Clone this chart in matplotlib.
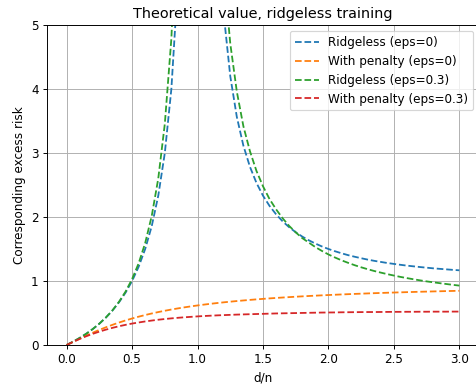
import numpy as np
import matplotlib.pyplot as plt

# Valeurs de d/n
d_sur_n = [0.0, 0.05, 0.1, 0.15, 0.2, 0.25, 0.3, 0.35, 0.4, 0.45,
           0.5, 0.55, 0.6, 0.65, 0.7, 0.75, 0.8, 0.85, 0.9, 0.95,
           1.0, 1.05, 1.1, 1.15, 1.2, 1.25, 1.3, 1.35, 1.4, 1.45,
           1.5, 1.55, 1.6, 1.65, 1.7, 1.75, 1.8, 1.85, 1.9, 1.95,
           2.0, 2.05, 2.1, 2.15, 2.2, 2.25, 2.3, 2.35, 2.4, 2.45,
           2.5, 2.55, 2.6, 2.65, 2.7, 2.75, 2.8, 2.85, 2.9, 2.95, 3.0]

# Ridgeless (eps=0)
ridgeless_eps0 = [0, 0.0526, 0.111, 0.176, 0.25, 0.333, 0.429, 0.538, 0.667, 0.818,
                  1.0, 1.222, 1.5, 1.857, 2.333, 3.0, 4.0, 5.667, 9.0, 19.0,
                  np.nan, 20.05, 10.09, 6.80, 5.167, 4.2, 3.564, 3.116, 2.786, 2.533,
                  2.333, 2.173, 2.042, 1.932, 1.840, 1.762, 1.694, 1.636, 1.585, 1.540,
                  1.5, 1.465, 1.433, 1.404, 1.379, 1.356, 1.334, 1.315, 1.298, 1.281,
                  1.267, 1.253, 1.240, 1.229, 1.218, 1.208, 1.198, 1.190, 1.182, 1.174, 1.167]

# With penalty (eps=0)
penalty_eps0 = [0, 0.0499, 0.0990, 0.1468, 0.1926, 0.2361, 0.2770, 0.3152, 0.3508, 0.3837,
                0.4142, 0.4424, 0.4684, 0.4924, 0.5146, 0.5352, 0.5542, 0.5719, 0.5884, 0.6037,
                0.6180, 0.6314, 0.6439, 0.6556, 0.6667, 0.6770, 0.6868, 0.6960, 0.7047, 0.7130,
                0.7208, 0.7282, 0.7352, 0.7419, 0.7482, 0.7543, 0.7601, 0.7656, 0.7709, 0.7759,
                0.7808, 0.7854, 0.7899, 0.7941, 0.7982, 0.8021, 0.8060, 0.8096, 0.8131, 0.8165,
                0.8198, 0.8229, 0.8260, 0.8289, 0.8318, 0.8345, 0.8372, 0.8398, 0.8423, 0.8447, 0.8471]

# Ridgeless (eps=0.3)
ridgeless_eps03 = [0, 0.0526, 0.111, 0.176, 0.250, 0.334, 0.430, 0.542, 0.675, 0.834,
                   1.03, 1.276, 1.593, 2.016, 2.602, 3.456, 4.786, 7.087, 11.83, 26.4,
                   np.nan, 23.03, 11.55, 7.74, 5.84, 4.71, 3.96, 3.42, 3.03, 2.72,
                   2.48, 2.28, 2.12, 1.98, 1.86, 1.76, 1.67, 1.60, 1.53, 1.47,
                   1.415, 1.367, 1.323, 1.284, 1.247, 1.214, 1.184, 1.156, 1.131, 1.107,
                   1.085, 1.064, 1.045, 1.027, 1.010, 0.994, 0.980, 0.966, 0.953, 0.940, 0.928]

# With penalty (eps=0.3)
penalty_eps03 = [0, 0.049, 0.095, 0.137, 0.175, 0.209, 0.240, 0.268, 0.293, 0.315,
                 0.335, 0.352, 0.368, 0.382, 0.395, 0.406, 0.416, 0.425, 0.433, 0.440,
                 0.447, 0.453, 0.458, 0.463, 0.467, 0.471, 0.475, 0.478, 0.481, 0.484,
                 0.487, 0.490, 0.493, 0.495, 0.497, 0.499, 0.501, 0.503, 0.505, 0.507,
                 0.508, 0.509, 0.511, 0.512, 0.513, 0.514, 0.515, 0.515, 0.516, 0.517,
                 0.518, 0.518, 0.519, 0.519, 0.520, 0.520, 0.521, 0.521, 0.521, 0.522, 0.522]

# --- Graphique ---
dpi = 86
fig = plt.figure(figsize=(476 / dpi, 385 / dpi), dpi=dpi)
ax = fig.add_axes([47 / 476, 40 / 385, 432 / 476, 320 / 385])
ax.plot(d_sur_n, ridgeless_eps0, linestyle='--', label='Ridgeless (eps=0)')
ax.plot(d_sur_n, penalty_eps0, linestyle='--', label='With penalty (eps=0)')
ax.plot(d_sur_n, ridgeless_eps03, linestyle='--', label='Ridgeless (eps=0.3)')
ax.plot(d_sur_n, penalty_eps03, linestyle='--', label='With penalty (eps=0.3)')
ax.set_ylim(0, 5)
ax.set_xlim(-0.15, 3.15)
ax.set_xlabel("d/n")
ax.set_ylabel("Corresponding excess risk")
ax.set_title("Theoretical value, ridgeless training")
ax.grid(True)
ax.legend(loc='upper right')
fig.savefig("out.png", dpi=dpi)
